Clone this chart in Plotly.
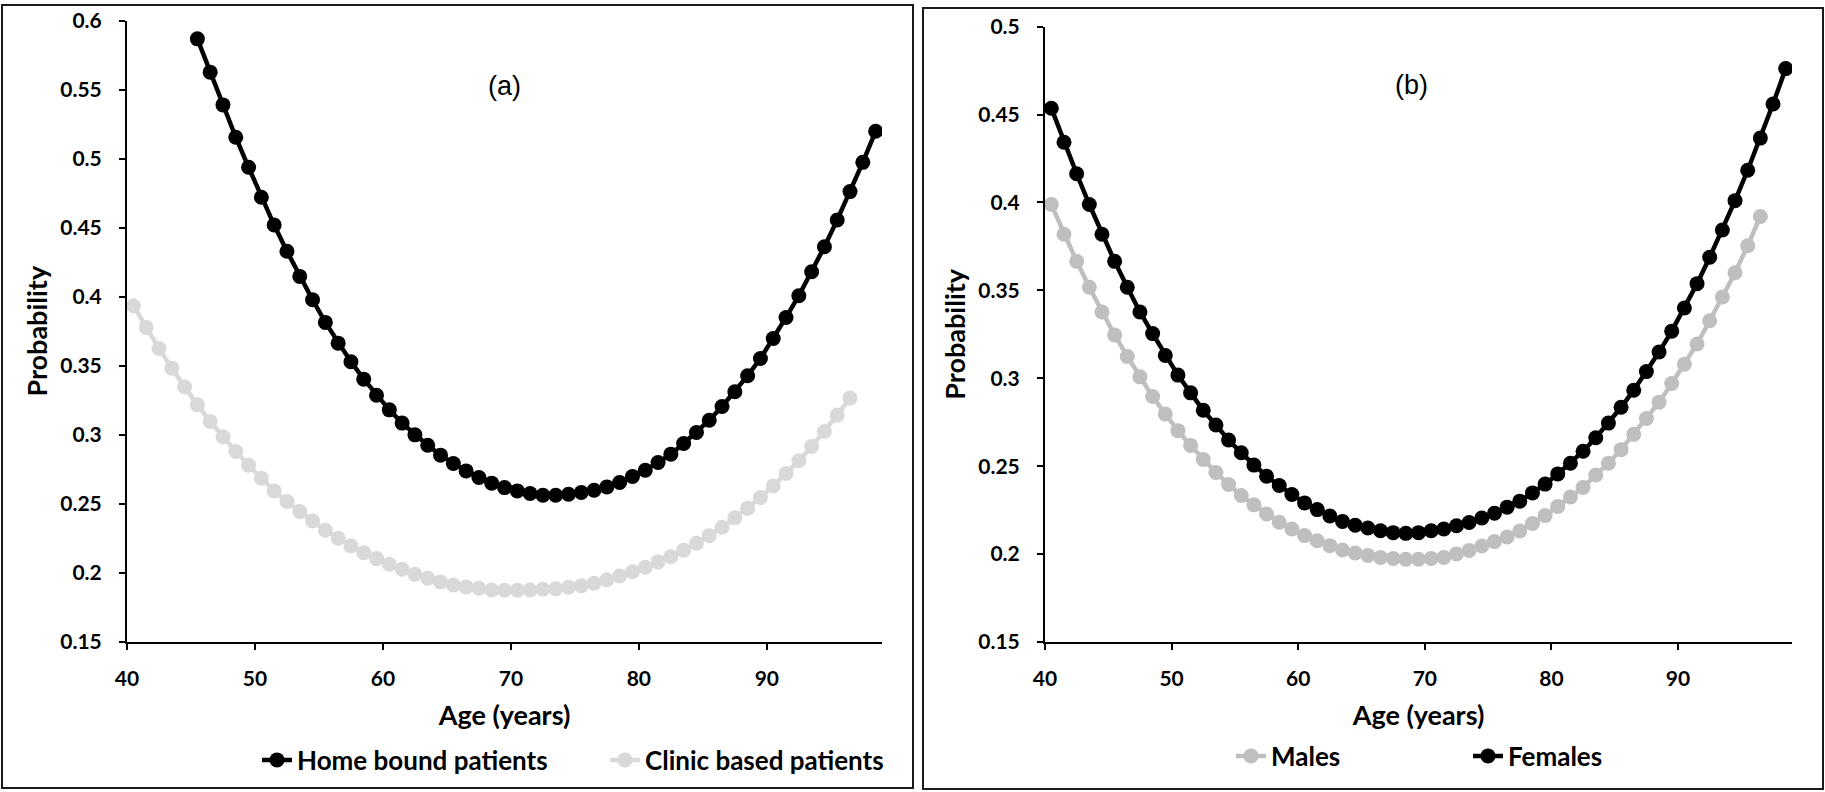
import plotly.graph_objects as go

W, H = 1825, 792

# ---------------- data ----------------
age_home = [45.5 + i for i in range(54)]
home_bound = [0.5867, 0.5626, 0.5389, 0.5155, 0.4937, 0.4720, 0.4519, 0.4329, 0.4147, 0.3978,
              0.3814, 0.3664, 0.3529, 0.3403, 0.3287, 0.3181, 0.3085, 0.3000, 0.2925, 0.2853,
              0.2792, 0.2739, 0.2691, 0.2650, 0.2618, 0.2594, 0.2575, 0.2563, 0.2563, 0.2570,
              0.2582, 0.2599, 0.2623, 0.2655, 0.2698, 0.2744, 0.2800, 0.2860, 0.2937, 0.3017,
              0.3106, 0.3205, 0.3312, 0.3428, 0.3553, 0.3698, 0.3850, 0.4007, 0.4181, 0.4362,
              0.4556, 0.4761, 0.4973, 0.5198]

age_clinic = [40.5 + i for i in range(57)]
clinic_based = [0.3935, 0.3778, 0.3625, 0.3483, 0.3348, 0.3217, 0.3096, 0.2986, 0.2879, 0.2780,
                0.2686, 0.2594, 0.2517, 0.2444, 0.2377, 0.2309, 0.2251, 0.2196, 0.2147, 0.2104,
                0.2063, 0.2027, 0.1991, 0.1962, 0.1935, 0.1913, 0.1899, 0.1889, 0.1877, 0.1875,
                0.1875, 0.1877, 0.1882, 0.1886, 0.1896, 0.1908, 0.1925, 0.1951, 0.1978, 0.2009,
                0.2041, 0.2080, 0.2118, 0.2164, 0.2215, 0.2270, 0.2331, 0.2399, 0.2469, 0.2546,
                0.2630, 0.2720, 0.2812, 0.2916, 0.3024, 0.3143, 0.3266]

age_male = [40.5 + i for i in range(57)]
males = [0.3988, 0.3819, 0.3665, 0.3518, 0.3377, 0.3246, 0.3124, 0.3008, 0.2896, 0.2797,
         0.2702, 0.2618, 0.2538, 0.2464, 0.2396, 0.2333, 0.2280, 0.2228, 0.2181, 0.2143,
         0.2105, 0.2076, 0.2048, 0.2023, 0.2006, 0.1992, 0.1981, 0.1975, 0.1971, 0.1971,
         0.1975, 0.1981, 0.2001, 0.2021, 0.2046, 0.2071, 0.2097, 0.2132, 0.2174, 0.2219,
         0.2271, 0.2325, 0.2379, 0.2450, 0.2517, 0.2594, 0.2681, 0.2771, 0.2864, 0.2970,
         0.3080, 0.3195, 0.3327, 0.3462, 0.3600, 0.3754, 0.3920]

age_female = [40.5 + i for i in range(59)]
females = [0.4536, 0.4342, 0.4163, 0.3988, 0.3819, 0.3665, 0.3518, 0.3377, 0.3254, 0.3130,
           0.3018, 0.2917, 0.2818, 0.2734, 0.2649, 0.2576, 0.2506, 0.2443, 0.2390, 0.2339,
           0.2291, 0.2253, 0.2217, 0.2186, 0.2164, 0.2148, 0.2133, 0.2122, 0.2118, 0.2122,
           0.2133, 0.2143, 0.2161, 0.2180, 0.2205, 0.2232, 0.2267, 0.2301, 0.2348, 0.2398,
           0.2456, 0.2517, 0.2585, 0.2662, 0.2745, 0.2835, 0.2932, 0.3038, 0.3149, 0.3268,
           0.3400, 0.3538, 0.3688, 0.3843, 0.4010, 0.4183, 0.4366, 0.4560, 0.4761]

x_ticks = [40, 50, 60, 70, 80, 90]
x_ticktext = ["40", "50", "60", "70", "80", "90"]
ya_ticks = [0.15, 0.2, 0.25, 0.3, 0.35, 0.4, 0.45, 0.5, 0.55, 0.6]
ya_ticktext = ["0.15", "0.2", "0.25", "0.3", "0.35", "0.4", "0.45", "0.5", "0.55", "0.6"]
yb_ticks = [0.15, 0.2, 0.25, 0.3, 0.35, 0.4, 0.45, 0.5]
yb_ticktext = ["0.15", "0.2", "0.25", "0.3", "0.35", "0.4", "0.45", "0.5"]

# ---------------- helpers ----------------
def px_x(p):
    return p / W

def px_y(p):
    return 1 - p / H

FONT = "Lato"
BLACK = "#000000"
CLINIC = "#d9d9d9"
MALE = "#bfbfbf"
MS = 15
LW = 4.5

fig = go.Figure()

fig.add_trace(go.Scatter(x=age_home, y=home_bound, name="Home bound patients", mode="lines+markers",
                         line=dict(color=BLACK, width=LW), marker=dict(color=BLACK, size=MS),
                         xaxis="x", yaxis="y", legend="legend"))
fig.add_trace(go.Scatter(x=age_clinic, y=clinic_based, name="Clinic based patients", mode="lines+markers",
                         line=dict(color=CLINIC, width=LW), marker=dict(color=CLINIC, size=MS),
                         xaxis="x", yaxis="y", legend="legend"))
fig.add_trace(go.Scatter(x=age_male, y=males, name="Males", mode="lines+markers",
                         line=dict(color=MALE, width=LW), marker=dict(color=MALE, size=MS),
                         xaxis="x2", yaxis="y2", legend="legend2"))
fig.add_trace(go.Scatter(x=age_female, y=females, name="Females", mode="lines+markers",
                         line=dict(color=BLACK, width=LW), marker=dict(color=BLACK, size=MS),
                         xaxis="x2", yaxis="y2", legend="legend2"))

tickfont = dict(family=FONT, size=21, color=BLACK, weight="bold")
titlefont = dict(family=FONT, size=27, color=BLACK, weight="bold")

def xax(domain, anchor):
    return dict(domain=domain, anchor=anchor, range=[40, 99], tickvals=x_ticks, ticktext=x_ticktext,
                showline=True, linecolor=BLACK, linewidth=2, ticks="outside", ticklen=6,
                tickwidth=2, tickcolor=BLACK, showgrid=False, zeroline=False, tickfont=tickfont,
                ticklabelstandoff=11, automargin=False,
                title=dict(text="Age (years)", font=titlefont, standoff=17))

def yax(domain, anchor, rng, tv, tt):
    return dict(domain=domain, anchor=anchor, range=rng, tickvals=tv, ticktext=tt,
                showline=True, linecolor=BLACK, linewidth=2, ticks="outside", ticklen=6,
                tickwidth=2, tickcolor=BLACK, showgrid=False, zeroline=False, tickfont=tickfont,
                ticklabelstandoff=13, automargin=False,
                title=dict(text="Probability", font=titlefont, standoff=5))

ybot = px_y(642)
legfont = dict(family=FONT, size=26, color=BLACK, weight="bold")
fig.update_layout(
    width=W, height=H, margin=dict(l=0, r=0, t=0, b=0, pad=0, autoexpand=False),
    paper_bgcolor="white", plot_bgcolor="white",
    xaxis=xax([px_x(127), px_x(882)], "y"),
    yaxis=yax([ybot, px_y(20.5)], "x", [0.15, 0.6], ya_ticks, ya_ticktext),
    xaxis2=xax([px_x(1045), px_x(1792)], "y2"),
    yaxis2=yax([ybot, px_y(26.6)], "x2", [0.15, 0.5], yb_ticks, yb_ticktext),
    legend=dict(orientation="h", x=px_x(257), y=px_y(760), xanchor="left", yanchor="middle",
                font=legfont, entrywidth=303, bgcolor="rgba(0,0,0,0)"),
    legend2=dict(orientation="h", x=px_x(1231), y=px_y(756), xanchor="left", yanchor="middle",
                 font=legfont, entrywidth=192, bgcolor="rgba(0,0,0,0)"),
    annotations=[
        dict(text="(a)", x=px_x(504), y=px_y(86), xref="paper", yref="paper", showarrow=False,
             xanchor="center", yanchor="middle",
             font=dict(family="Liberation Sans", size=27, color=BLACK)),
        dict(text="(b)", x=px_x(1411), y=px_y(85), xref="paper", yref="paper", showarrow=False,
             xanchor="center", yanchor="middle",
             font=dict(family="Liberation Sans", size=27, color=BLACK)),
    ],
    shapes=[
        dict(type="rect", xref="paper", yref="paper", x0=px_x(2), x1=px_x(913), y0=px_y(788), y1=px_y(5),
             line=dict(color="#1a1a1a", width=2)),
        dict(type="rect", xref="paper", yref="paper", x0=px_x(923), x1=px_x(1823), y0=px_y(789), y1=px_y(8),
             line=dict(color="#1a1a1a", width=2)),
    ],
    showlegend=True,
)

fig.write_html("out.html")
